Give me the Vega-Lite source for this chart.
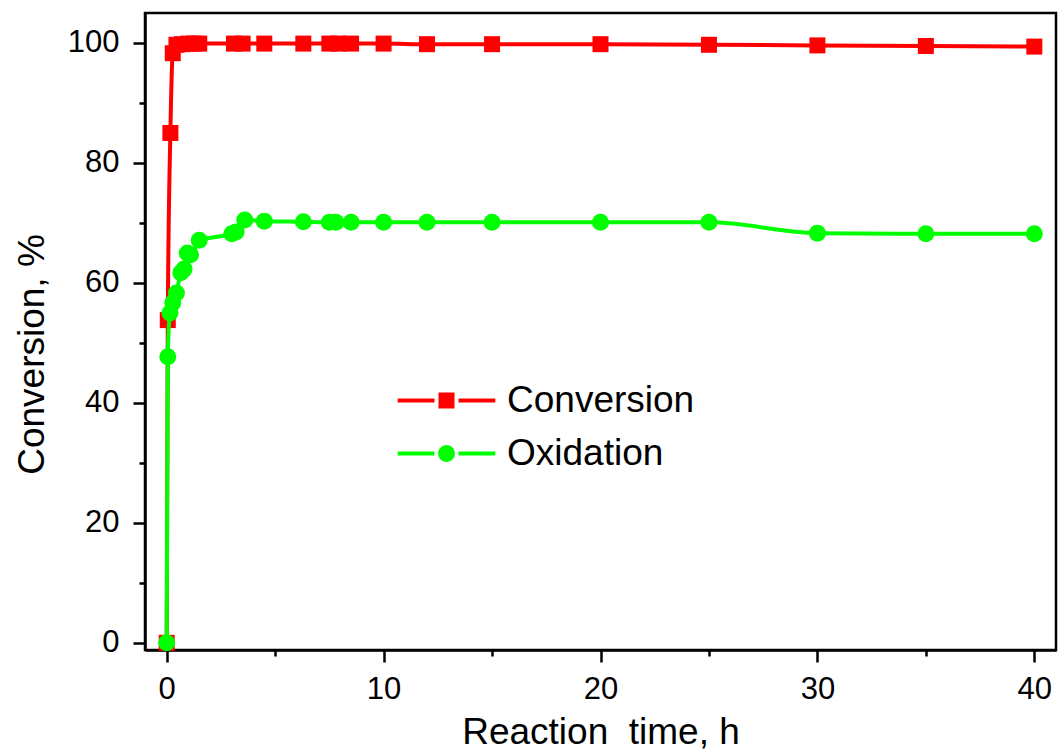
{
  "$schema": "https://vega.github.io/schema/vega-lite/v6.json",
  "width": 911,
  "height": 637,
  "autosize": "none",
  "padding": {"left": 145, "top": 13, "right": 2, "bottom": 101},
  "background": "white",
  "config": {
    "font": "Liberation Sans",
    "view": {"stroke": "black", "strokeWidth": 2.5},
    "axis": {
      "domainColor": "black",
      "domainWidth": 2.5,
      "tickColor": "black",
      "tickWidth": 2.5,
      "labelColor": "black",
      "labelFont": "Liberation Sans",
      "labelFontSize": 31,
      "titleFont": "Liberation Sans",
      "titleFontSize": 37,
      "titleFontWeight": "normal",
      "titleColor": "black",
      "grid": false
    },
    "legend": {
      "title": null,
      "orient": "none",
      "padding": 0,
      "labelFontSize": 37,
      "labelFont": "Liberation Sans",
      "labelColor": "black",
      "labelLimit": 600,
      "labelOffset": 42,
      "symbolSize": 256,
      "symbolStrokeWidth": 0,
      "symbolOpacity": 1
    }
  },
  "data": {
    "values": [
      {"t": 0, "v": 0, "s": "Conversion"},
      {"t": 0.05, "v": 53.8, "s": "Conversion"},
      {"t": 0.17, "v": 85, "s": "Conversion"},
      {"t": 0.28, "v": 98.3, "s": "Conversion"},
      {"t": 0.45, "v": 99.7, "s": "Conversion"},
      {"t": 0.7, "v": 99.8, "s": "Conversion"},
      {"t": 1.0, "v": 99.9, "s": "Conversion"},
      {"t": 1.25, "v": 99.9, "s": "Conversion"},
      {"t": 1.5, "v": 99.9, "s": "Conversion"},
      {"t": 3.1, "v": 99.9, "s": "Conversion"},
      {"t": 3.5, "v": 99.9, "s": "Conversion"},
      {"t": 4.5, "v": 99.9, "s": "Conversion"},
      {"t": 6.3, "v": 99.9, "s": "Conversion"},
      {"t": 7.5, "v": 99.9, "s": "Conversion"},
      {"t": 7.9, "v": 99.9, "s": "Conversion"},
      {"t": 8.5, "v": 99.9, "s": "Conversion"},
      {"t": 10, "v": 99.9, "s": "Conversion"},
      {"t": 12, "v": 99.8, "s": "Conversion"},
      {"t": 15, "v": 99.8, "s": "Conversion"},
      {"t": 20, "v": 99.8, "s": "Conversion"},
      {"t": 25, "v": 99.7, "s": "Conversion"},
      {"t": 30, "v": 99.6, "s": "Conversion"},
      {"t": 35, "v": 99.5, "s": "Conversion"},
      {"t": 40, "v": 99.4, "s": "Conversion"},
      {"t": 0, "v": 0, "s": "Oxidation"},
      {"t": 0.05, "v": 47.7, "s": "Oxidation"},
      {"t": 0.15, "v": 55, "s": "Oxidation"},
      {"t": 0.28, "v": 56.7, "s": "Oxidation"},
      {"t": 0.45, "v": 58.3, "s": "Oxidation"},
      {"t": 0.65, "v": 61.7, "s": "Oxidation"},
      {"t": 0.8, "v": 62.3, "s": "Oxidation"},
      {"t": 0.95, "v": 65, "s": "Oxidation"},
      {"t": 1.1, "v": 64.7, "s": "Oxidation"},
      {"t": 1.5, "v": 67.1, "s": "Oxidation"},
      {"t": 3.0, "v": 68.2, "s": "Oxidation"},
      {"t": 3.2, "v": 68.5, "s": "Oxidation"},
      {"t": 3.6, "v": 70.5, "s": "Oxidation"},
      {"t": 4.5, "v": 70.3, "s": "Oxidation"},
      {"t": 6.3, "v": 70.2, "s": "Oxidation"},
      {"t": 7.5, "v": 70.1, "s": "Oxidation"},
      {"t": 7.8, "v": 70.1, "s": "Oxidation"},
      {"t": 8.5, "v": 70.1, "s": "Oxidation"},
      {"t": 10, "v": 70.1, "s": "Oxidation"},
      {"t": 12, "v": 70.1, "s": "Oxidation"},
      {"t": 15, "v": 70.1, "s": "Oxidation"},
      {"t": 20, "v": 70.1, "s": "Oxidation"},
      {"t": 25, "v": 70.1, "s": "Oxidation"},
      {"t": 30, "v": 68.3, "s": "Oxidation"},
      {"t": 35, "v": 68.2, "s": "Oxidation"},
      {"t": 40, "v": 68.2, "s": "Oxidation"}
    ]
  },
  "encoding": {
    "x": {
      "field": "t", "type": "quantitative",
      "scale": {"domain": [-1, 41], "nice": false, "zero": false},
      "axis": {
        "title": "Reaction \u00a0time, h",
        "values": [0, 5, 10, 15, 20, 25, 30, 35, 40],
        "labelExpr": "datum.value % 10 === 0 ? datum.label : ''",
        "tickSize": {"condition": {"test": "datum.value % 10 === 0", "value": 12}, "value": 6},
        "labelPadding": 12,
        "titlePadding": 10,
        "labelFlush": false,
        "labelOverlap": false
      }
    },
    "y": {
      "field": "v", "type": "quantitative",
      "scale": {"domain": [-1.2, 105], "nice": false, "zero": false},
      "axis": {
        "title": "Conversion, %",
        "values": [0, 10, 20, 30, 40, 50, 60, 70, 80, 90, 100],
        "labelExpr": "datum.value % 20 === 0 ? datum.label : ''",
        "tickSize": {"condition": {"test": "datum.value % 20 === 0", "value": 12}, "value": 6},
        "labelPadding": 14,
        "titlePadding": 16,
        "titleY": 341,
        "labelFlush": false,
        "labelOverlap": false
      }
    }
  },
  "resolve": {"scale": {"color": "independent"}, "legend": {"color": "independent"}},
  "layer": [
    {
      "transform": [{"filter": "datum.s === 'Conversion'"}],
      "mark": {"type": "line", "interpolate": "monotone", "strokeWidth": 4},
      "encoding": {
        "color": {
          "field": "s", "type": "nominal",
          "scale": {"domain": ["Conversion"], "range": ["#ff0000"]},
          "legend": {
            "legendX": 283,
            "legendY": 369,
            "symbolFillColor": "#ff0000",
            "symbolType": "M-6.1,-0.25H-1.5V0.25H-6.1Z M-1,-1H1V1H-1Z M1.5,-0.25H6.1V0.25H1.5Z"
          }
        }
      }
    },
    {
      "transform": [{"filter": "datum.s === 'Conversion'"}],
      "mark": {"type": "point", "shape": "square", "filled": true, "color": "#ff0000", "opacity": 1, "size": 256, "strokeWidth": 0}
    },
    {
      "transform": [{"filter": "datum.s === 'Oxidation'"}],
      "mark": {"type": "line", "interpolate": "monotone", "strokeWidth": 4},
      "encoding": {
        "color": {
          "field": "s", "type": "nominal",
          "scale": {"domain": ["Oxidation"], "range": ["#00ff00"]},
          "legend": {
            "legendX": 283,
            "legendY": 422,
            "symbolFillColor": "#00ff00",
            "symbolType": "M-6.1,-0.25H-1.5V0.25H-6.1Z M-1.05,0A1.05,1.05 0 1,0 1.05,0A1.05,1.05 0 1,0 -1.05,0Z M1.5,-0.25H6.1V0.25H1.5Z"
          }
        }
      }
    },
    {
      "transform": [{"filter": "datum.s === 'Oxidation'"}],
      "mark": {"type": "point", "shape": "circle", "filled": true, "color": "#00ff00", "opacity": 1, "size": 289, "strokeWidth": 0}
    }
  ]
}
